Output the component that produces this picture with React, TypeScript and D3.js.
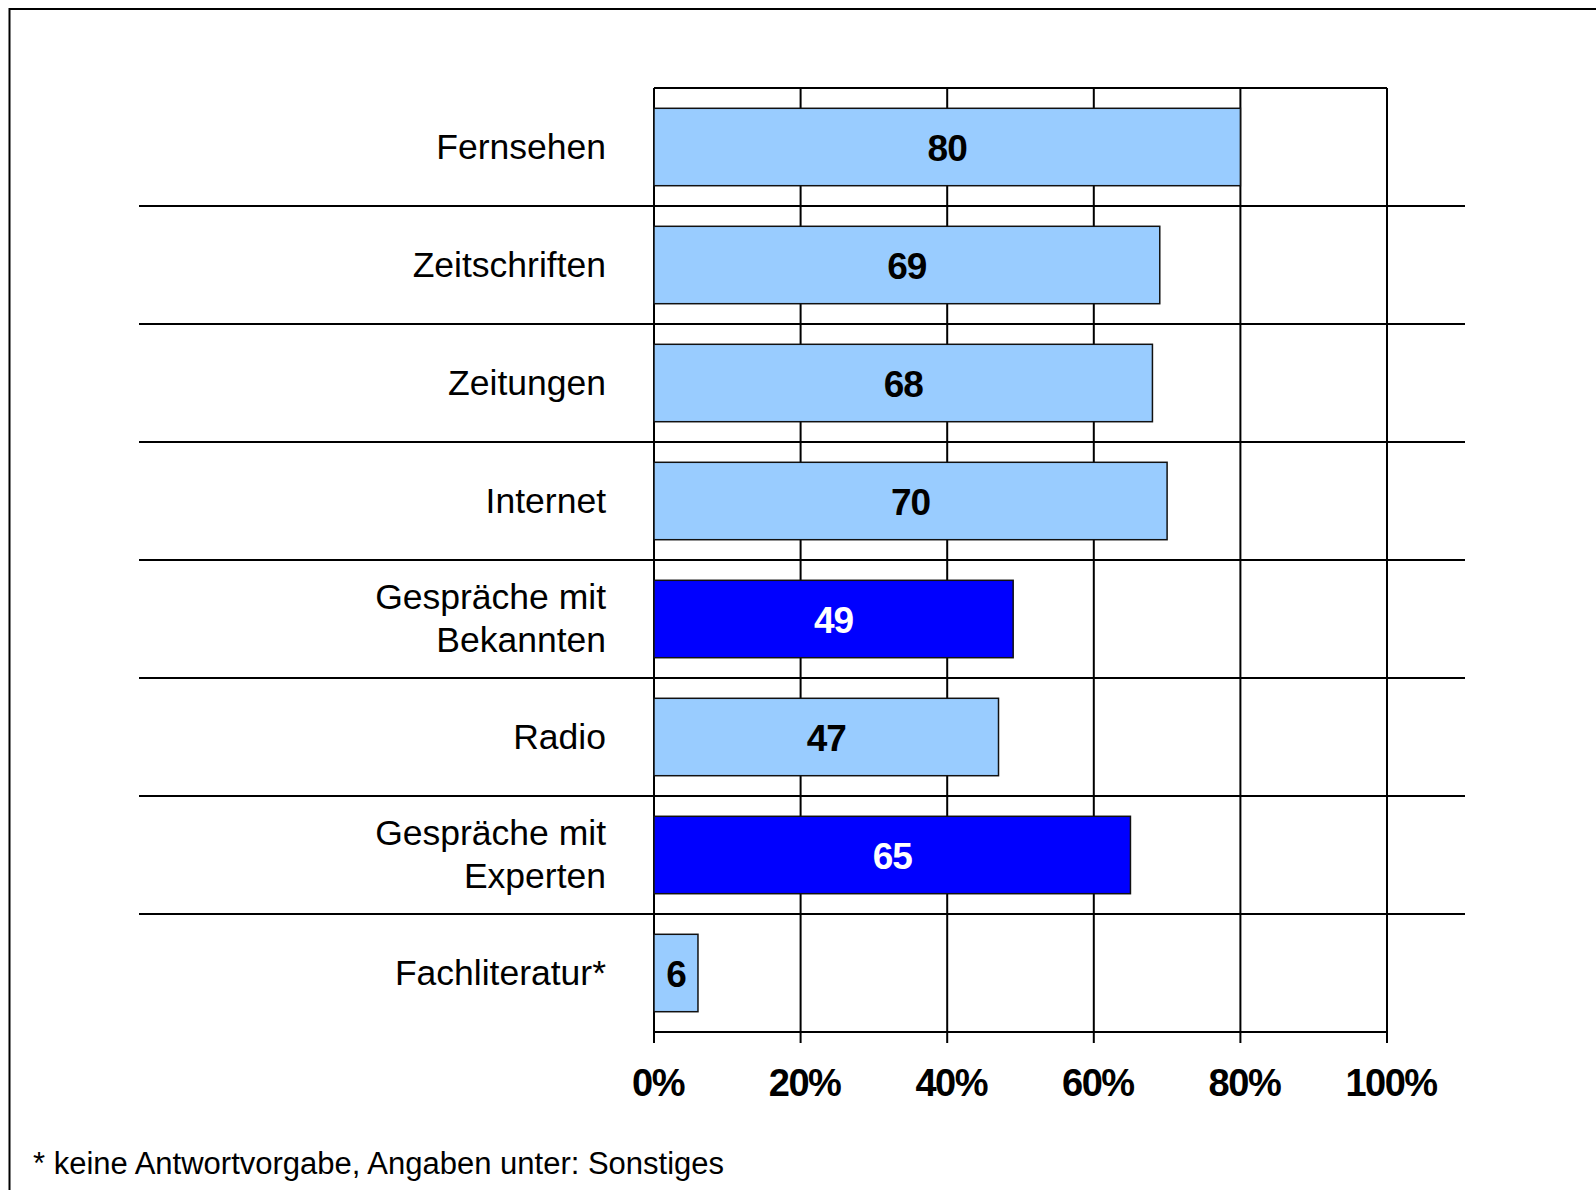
import React from 'react';
import * as d3 from 'd3';

const categories = [
  'Fernsehen',
  'Zeitschriften',
  'Zeitungen',
  'Internet',
  'Gespräche mit\nBekannten',
  'Radio',
  'Gespräche mit\nExperten',
  'Fachliteratur*',
];
const values = [80, 69, 68, 70, 49, 47, 65, 6];
const highlighted = ['Gespräche mit\nBekannten', 'Gespräche mit\nExperten'];
const ticks = [0, 20, 40, 60, 80, 100];
const tickLabels = ['0%', '20%', '40%', '60%', '80%', '100%'];
const footnote = '* keine Antwortvorgabe, Angaben unter: Sonstiges';

const width = 1596;
const height = 1190;
const font = '"Liberation Sans", Arial, Helvetica, sans-serif';

function App() {
  const left = 654;
  const right = 1387;
  const top = 88;
  const bottom = 1032;

  const x = d3.scaleLinear().domain([0, 100]).range([left, right]);
  const y = d3
    .scaleBand<string>()
    .domain(categories)
    .range([top, bottom])
    .paddingInner(0.344)
    .paddingOuter(0.172);
  const step = y.step();

  return (
    <svg
      width={width}
      height={height}
      style={{ position: 'absolute', left: 0, top: 0, background: '#fff' }}
      fontFamily={font}
    >
      <rect x={9.5} y={9} width={width * 2} height={height * 2} fill="none" stroke="#000" strokeWidth={2} />

      {/* separators between categories */}
      {categories.slice(1).map((c, i) => (
        <line key={c} x1={139} x2={1465} y1={top + (i + 1) * step} y2={top + (i + 1) * step} stroke="#000" strokeWidth={2} />
      ))}

      {/* plot frame + gridlines */}
      <line x1={left} x2={right} y1={top} y2={top} stroke="#000" strokeWidth={2} />
      <line x1={left} x2={right} y1={bottom} y2={bottom} stroke="#000" strokeWidth={2} />
      {ticks.map(t => (
        <line key={t} x1={x(t)} x2={x(t)} y1={top} y2={bottom + 11} stroke="#000" strokeWidth={2} />
      ))}

      {categories.map((c, i) => {
        const y0 = y(c) as number;
        const bh = y.bandwidth();
        const dark = highlighted.includes(c);
        const w = x(values[i]) - x(0);
        return (
          <g key={c}>
            <rect x={x(0)} y={y0} width={w} height={bh} fill={dark ? '#0000FF' : '#99CCFF'} stroke="#111" strokeWidth={1.5} />
            <text
              x={x(0) + w / 2}
              y={y0 + bh / 2 + 14}
              textAnchor="middle"
              fontSize={37}
              fontWeight="bold"
              letterSpacing={-1}
              fill={dark ? '#fff' : '#000'}
            >
              {values[i]}
            </text>
          </g>
        );
      })}

      {categories.map(c => {
        const lines = c.split('\n');
        const mid = (y(c) as number) + y.bandwidth() / 2;
        const lh = 42.7;
        return (
          <text key={c} x={606} textAnchor="end" fontSize={35.5} fill="#000">
            {lines.map((l, j) => (
              <tspan key={j} x={606} y={mid + 11.5 + (j - (lines.length - 1) / 2) * lh}>
                {l}
              </tspan>
            ))}
          </text>
        );
      })}

      {ticks.map((t, i) => (
        <text key={t} x={x(t) + 4} y={1096} textAnchor="middle" fontSize={38} fontWeight="bold" letterSpacing={-1.5} fill="#000">
          {tickLabels[i]}
        </text>
      ))}

      <text x={33} y={1174} fontSize={31} fill="#000">
        {footnote}
      </text>
    </svg>
  );
}

export default App;
